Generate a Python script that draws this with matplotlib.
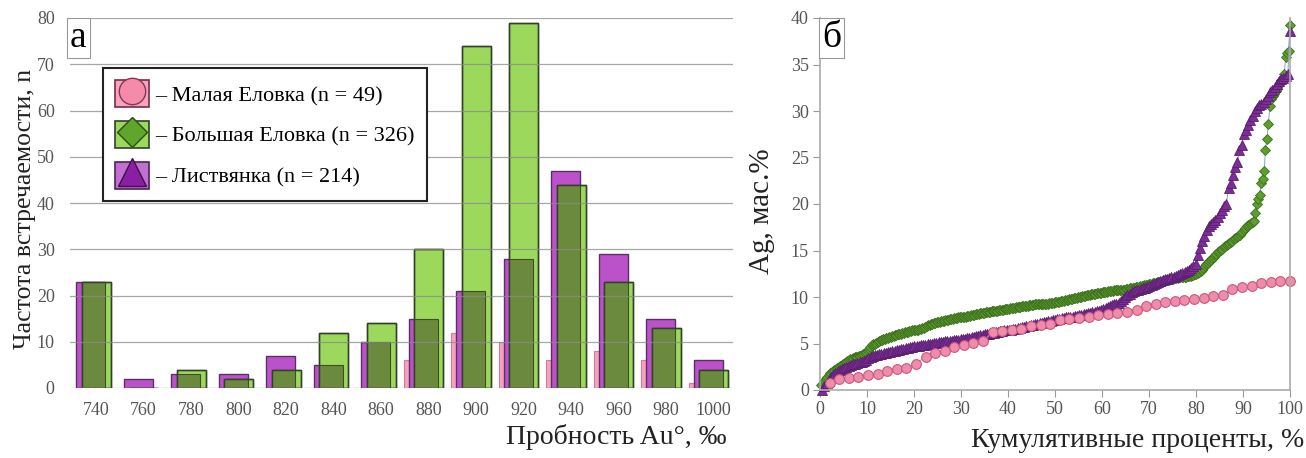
import numpy as np
from matplotlib import pyplot as plt
from matplotlib.patches import Patch
from matplotlib.lines import Line2D
from matplotlib.legend_handler import HandlerTuple

plt.rcParams['font.family'] = ['Liberation Serif', 'DejaVu Serif']

# histogram data (fineness of gold, counts)
probnost = [740, 760, 780, 800, 820, 840, 860, 880, 900, 920, 940, 960, 980, 1000]
malaya = [0, 0, 0, 0, 0, 0, 0, 6, 12, 10, 6, 8, 6, 1]
bolshaya = [23, 0, 4, 2, 4, 12, 14, 30, 74, 79, 44, 23, 13, 4]
listvyanka = [23, 2, 3, 3, 7, 5, 10, 15, 21, 28, 47, 29, 15, 6]

labels = ['– Малая Еловка (n = 49)', '– Большая Еловка (n = 326)', '– Листвянка (n = 214)']

# sorted Ag contents, wt.%
ag_malaya = [0.8, 1.2, 1.3, 1.4, 1.6, 1.7, 2.0, 2.3, 2.4, 2.8,
             3.6, 4.0, 4.2, 4.6, 4.8, 5.1, 5.3, 6.2, 6.3, 6.5,
             6.6, 6.9, 7.0, 7.1, 7.5, 7.6, 7.7, 7.8, 8.1, 8.2,
             8.3, 8.4, 8.6, 9.0, 9.3, 9.5, 9.6, 9.7, 9.8, 9.9,
             10.1, 10.2, 10.9, 11.1, 11.2, 11.5, 11.6, 11.7, 11.7]

ag_bolshaya = [0.5, 0.8, 1.0, 1.2, 1.4, 1.6, 1.8, 1.9, 2.0, 2.2,
               2.3, 2.4, 2.5, 2.6, 2.7, 2.8, 2.9, 3.0, 3.1, 3.2,
               3.3, 3.3, 3.4, 3.5, 3.5, 3.6, 3.7, 3.7, 3.8, 3.9,
               4.0, 4.1, 4.2, 4.4, 4.6, 4.8, 4.9, 5.0, 5.1, 5.2,
               5.3, 5.4, 5.4, 5.5, 5.5, 5.6, 5.6, 5.7, 5.7, 5.8,
               5.8, 5.9, 5.9, 6.0, 6.0, 6.0, 6.1, 6.1, 6.2, 6.2,
               6.2, 6.3, 6.3, 6.4, 6.4, 6.4, 6.5, 6.5, 6.6, 6.6,
               6.7, 6.7, 6.8, 6.9, 7.0, 7.0, 7.1, 7.1, 7.2, 7.2,
               7.3, 7.3, 7.3, 7.4, 7.4, 7.4, 7.5, 7.5, 7.5, 7.6,
               7.6, 7.6, 7.7, 7.7, 7.7, 7.8, 7.8, 7.8, 7.9, 7.9,
               7.9, 8.0, 8.0, 8.0, 8.1, 8.1, 8.1, 8.2, 8.2, 8.2,
               8.3, 8.3, 8.3, 8.3, 8.4, 8.4, 8.4, 8.4, 8.5, 8.5,
               8.5, 8.5, 8.5, 8.6, 8.6, 8.6, 8.6, 8.7, 8.7, 8.7,
               8.7, 8.8, 8.8, 8.8, 8.8, 8.9, 8.9, 8.9, 8.9, 9.0,
               9.0, 9.0, 9.0, 9.0, 9.1, 9.1, 9.1, 9.1, 9.2, 9.2,
               9.2, 9.2, 9.2, 9.3, 9.3, 9.3, 9.3, 9.3, 9.4, 9.4,
               9.4, 9.4, 9.5, 9.5, 9.5, 9.5, 9.6, 9.6, 9.6, 9.7,
               9.7, 9.7, 9.8, 9.8, 9.8, 9.9, 9.9, 9.9, 10.0, 10.0,
               10.0, 10.1, 10.1, 10.1, 10.2, 10.2, 10.2, 10.3, 10.3, 10.3,
               10.3, 10.4, 10.4, 10.4, 10.4, 10.5, 10.5, 10.5, 10.5, 10.6,
               10.6, 10.6, 10.6, 10.7, 10.7, 10.7, 10.7, 10.8, 10.8, 10.8,
               10.8, 10.9, 10.9, 10.9, 11.0, 11.0, 11.0, 11.0, 11.1, 11.1,
               11.1, 11.2, 11.2, 11.2, 11.3, 11.3, 11.3, 11.4, 11.4, 11.4,
               11.5, 11.5, 11.5, 11.6, 11.6, 11.6, 11.7, 11.7, 11.7, 11.8,
               11.8, 11.8, 11.9, 11.9, 11.9, 12.0, 12.0, 12.0, 12.1, 12.1,
               12.1, 12.2, 12.2, 12.2, 12.3, 12.3, 12.3, 12.4, 12.4, 12.5,
               12.5, 12.6, 12.7, 12.8, 12.9, 13.1, 13.3, 13.5, 13.7, 13.9,
               14.0, 14.2, 14.3, 14.5, 14.6, 14.8, 14.9, 15.1, 15.2, 15.4,
               15.5, 15.6, 15.7, 15.8, 15.9, 16.0, 16.2, 16.3, 16.5, 16.6,
               16.7, 16.9, 17.0, 17.2, 17.4, 17.6, 17.7, 17.9, 18.0, 18.1,
               18.2, 19.0, 20.0, 20.5, 21.0, 22.3, 22.7, 23.5, 25.8, 27.0,
               28.6, 30.5, 31.3, 31.6, 31.8, 32.1, 32.4, 32.7, 33.0, 33.3,
               33.6, 34.0, 35.8, 36.2, 36.5, 39.2]

ag_listvyanka = [0.0, 0.4, 0.8, 1.1, 1.4, 1.6, 1.8, 2.0, 2.1, 2.3,
                 2.4, 2.5, 2.6, 2.7, 2.8, 2.8, 2.9, 3.0, 3.0, 3.1,
                 3.2, 3.4, 3.6, 3.7, 3.8, 3.8, 3.9, 3.9, 4.0, 4.0,
                 4.1, 4.1, 4.2, 4.2, 4.3, 4.3, 4.4, 4.4, 4.5, 4.5,
                 4.6, 4.6, 4.7, 4.7, 4.7, 4.8, 4.8, 4.8, 4.9, 4.9,
                 5.0, 5.1, 5.1, 5.2, 5.2, 5.2, 5.3, 5.3, 5.3, 5.3,
                 5.4, 5.4, 5.4, 5.5, 5.5, 5.5, 5.6, 5.6, 5.7, 5.7,
                 5.8, 5.8, 5.9, 5.9, 6.0, 6.0, 6.0, 6.1, 6.1, 6.2,
                 6.2, 6.3, 6.3, 6.4, 6.4, 6.5, 6.5, 6.6, 6.6, 6.7,
                 6.7, 6.8, 6.8, 6.9, 6.9, 7.0, 7.0, 7.1, 7.1, 7.2,
                 7.2, 7.3, 7.3, 7.4, 7.4, 7.5, 7.5, 7.6, 7.6, 7.7,
                 7.7, 7.8, 7.8, 7.9, 7.9, 8.0, 8.0, 8.1, 8.1, 8.2,
                 8.2, 8.3, 8.3, 8.4, 8.4, 8.5, 8.5, 8.6, 8.7, 8.8,
                 8.9, 9.0, 9.1, 9.2, 9.3, 9.4, 9.6, 9.8, 10.0, 10.2,
                 10.3, 10.5, 10.6, 10.7, 10.8, 10.9, 11.0, 11.0, 11.1, 11.2,
                 11.3, 11.4, 11.5, 11.6, 11.7, 11.8, 11.9, 11.9, 12.0, 12.1,
                 12.2, 12.3, 12.4, 12.5, 12.6, 12.7, 12.8, 12.9, 13.1, 13.3,
                 13.5, 14.5, 15.3, 16.0, 16.6, 17.2, 17.6, 17.9, 18.1, 18.3,
                 18.6, 19.0, 19.4, 19.8, 20.0, 21.7, 22.3, 23.1, 24.0, 24.5,
                 25.8, 26.3, 27.5, 28.0, 28.5, 29.0, 29.5, 30.0, 30.3, 30.6,
                 30.8, 31.0, 31.3, 31.6, 32.0, 32.3, 32.6, 32.9, 33.2, 33.4,
                 33.6, 33.8, 34.0, 38.6]

# colours
c_pink = '#f7a3bd'
c_purple = '#bb52c9'
c_green = '#9bd85b'
c_olive = '#6c8a3d'

W, H = 1306, 458
fig = plt.figure(figsize=(W / 100, H / 100), dpi=100)
ax1 = fig.add_axes([70 / W, 1 - 388 / H, 663 / W, 370 / H])
ax2 = fig.add_axes([820 / W, 1 - 390 / H, 470 / W, 372 / H])

# ---- panel a: histogram
pos = np.arange(len(probnost))
w = 0.61
off_m, off_l, off_b = -0.22, -0.11, 0.0

ax1.bar(pos + off_m, malaya, w, color=c_pink, edgecolor='#d9789a', lw=0.8, zorder=1.0)
ax1.bar(pos + off_l, listvyanka, w, color=c_purple, edgecolor='#5b2f63', lw=1, zorder=1.2)
ax1.bar(pos + off_b, bolshaya, w, color=c_green, edgecolor='#33402a', lw=1, zorder=1.4)
# where green covers purple the picture gets dark olive
ov_left = pos + off_b - w / 2
ov_right = pos + off_l + w / 2
ov = np.minimum(listvyanka, bolshaya)
ax1.bar((ov_left + ov_right) / 2, ov, ov_right - ov_left, color=c_olive,
        edgecolor='#3f4d2c', lw=0.8, zorder=1.6)
ax1.bar(pos + off_b, bolshaya, w, fill=False, edgecolor='#33402a', lw=1, zorder=1.8)

ax1.set_axisbelow(False)
ax1.yaxis.grid(True, color='#8a8a8a', lw=0.9, alpha=0.75)
ax1.set_ylim(0, 80)
ax1.set_yticks(range(0, 81, 10))
ax1.set_xlim(-0.55, 13.41)
ax1.set_xticks(pos)
ax1.set_xticklabels([str(p) for p in probnost])
for s in ax1.spines.values():
    s.set_visible(False)
ax1.tick_params(axis='y', length=0, pad=11, labelsize=13, labelcolor='#555555')
ax1.tick_params(axis='x', length=0, pad=10, labelsize=13, labelcolor='#555555')

ax1.set_ylabel('Частота встречаемости, n', fontsize=18.5, color='#222222')
ax1.yaxis.set_label_coords(-0.052, 0.485)
ax1.text(0.99, -0.133, 'Пробность Au°, ‰', transform=ax1.transAxes,
         ha='right', va='center', fontsize=20, color='#222222')

ax1.text(0.0, 0.993, 'а', transform=ax1.transAxes, ha='left', va='top', fontsize=27,
         bbox=dict(boxstyle='square,pad=0.08', fc='white', ec='#999999', lw=0.8), zorder=6)

handles = [
    (Patch(fc=c_pink, ec='#6e3048', lw=1.2),
     Line2D([], [], ls='', marker='o', ms=19, mfc='#f58bab', mec='#8a3552', mew=1)),
    (Patch(fc=c_green, ec='#33402a', lw=1.2),
     Line2D([], [], ls='', marker='D', ms=15, mfc='#5fa62a', mec='#2e4a18', mew=1)),
    (Patch(fc='#c070cf', ec='#4a2452', lw=1.2),
     Line2D([], [], ls='', marker='^', ms=20, mfc='#8a1fa3', mec='#3e1048', mew=1)),
]
leg = ax1.legend(handles, labels, handler_map={tuple: HandlerTuple(ndivide=1)},
                 loc='upper left', bbox_to_anchor=(0.0498, 0.865), borderaxespad=0,
                 fontsize=16, handlelength=1.5, handleheight=1.5, handletextpad=0.3,
                 labelspacing=0.62, borderpad=0.55, fancybox=False, framealpha=1,
                 numpoints=1)
leg.get_frame().set_edgecolor('#222222')
leg.get_frame().set_linewidth(1.5)
leg.set_zorder(5)

# ---- panel b: cumulative curves
x_m = np.arange(1, len(ag_malaya) + 1) / len(ag_malaya) * 100
x_b = np.arange(1, len(ag_bolshaya) + 1) / len(ag_bolshaya) * 100
x_l = np.arange(1, len(ag_listvyanka) + 1) / len(ag_listvyanka) * 100

ax2.plot(x_b, ag_bolshaya, ls='-', lw=0.7, color='#8c9fd0', marker='D', ms=5,
         mfc='#5e9e2c', mec='#3d7020', mew=0.6, clip_on=False)
ax2.plot(x_l, ag_listvyanka, ls='-', lw=0.7, color='#8c9fd0', marker='^', ms=7,
         mfc='#7a2e96', mec='#5a1e70', mew=0.6, clip_on=False)
ax2.plot(x_m, ag_malaya, ls='-', lw=0.7, color='#d090a8', marker='o', ms=7,
         mfc='#f08cab', mec='#c8587c', mew=0.8, clip_on=False)

ax2.set_xlim(0, 100)
ax2.set_ylim(0, 40)
ax2.set_xticks(range(0, 101, 10))
ax2.set_yticks(range(0, 41, 5))
ax2.spines['top'].set_visible(False)
for s in ['left', 'bottom', 'right']:
    ax2.spines[s].set_color('#aaaaaa')
    ax2.spines[s].set_linewidth(1.2)
ax2.tick_params(direction='out', length=5, color='#999999', labelsize=13,
                labelcolor='#555555', pad=3)

ax2.set_ylabel('Ag, мас.%', fontsize=21, color='#222222')
ax2.yaxis.set_label_coords(-0.095, 0.48)
ax2.text(1.03, -0.135, 'Кумулятивные проценты, %', transform=ax2.transAxes,
         ha='right', va='center', fontsize=20, color='#222222')

ax2.text(0.005, 0.993, 'б', transform=ax2.transAxes, ha='left', va='top', fontsize=27,
         bbox=dict(boxstyle='square,pad=0.08', fc='white', ec='#999999', lw=0.8), zorder=6)

fig.savefig('out.png', dpi=100, facecolor='white')
